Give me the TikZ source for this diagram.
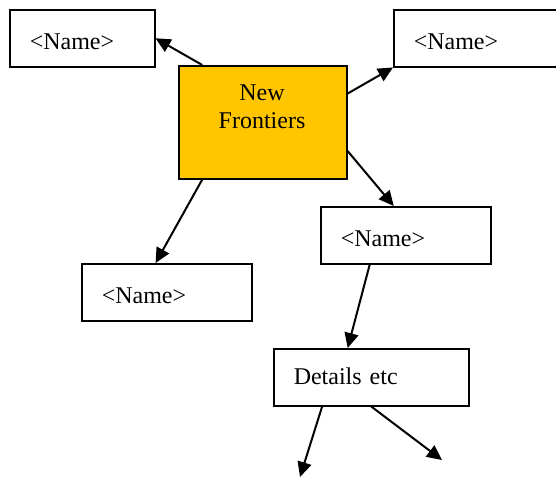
\documentclass[tikz,border=0pt]{standalone}
\usepackage{fontspec}
\setmainfont{Liberation Serif}
\usetikzlibrary{calc,positioning,arrows.meta}
\definecolor{gold}{RGB}{255,198,0}
\tikzset{
  every node/.style={font=\fontsize{12}{13.8}\selectfont},
  namebox/.style={draw, line width=0.75pt, anchor=north west, inner xsep=10pt, align=left, text width=#1, text height=11pt, text depth=0pt, minimum height=28.5pt},
  hub/.style={draw, line width=0.75pt, fill=gold, anchor=north west, minimum width=84pt, minimum height=56.5pt},
  link/.style={line width=1pt, -{Triangle[length=7.5pt,width=7pt]}}
}
\begin{document}
\begin{tikzpicture}[x=0.5pt, y=-0.5pt]
\useasboundingbox (0,0) rectangle (556,488);
% boxes
\node[namebox=52.5pt] (nameA) at (9,9) {<Name>};
\node[namebox=72pt] (nameB) at (393,9) {<Name>};
\node[hub] (nf) at (178,65) {};
\node[align=center] (nftext) at (262,107) {New\\Frontiers};
\node[namebox=65pt] (nameC) at (320,206) {<Name>};
\node[namebox=65pt] (nameD) at (81,263) {<Name>};
\node[namebox=77.5pt, text height=7pt] (details) at (273,348) {Details etc};
\coordinate (endA) at (300,477);
\coordinate (endB) at (442,460);
% arrows
\draw[link] ($(nf.north west)!0.143!(nf.north east)$) -- (nameA.east);
\draw[link] ($(nf.north east)!0.25!(nf.south east)$) -- (nameB.south west);
\draw[link] ($(nf.north east)!0.75!(nf.south east)$) -- ($(nameC.north west)!0.43!(nameC.north east)$);
\draw[link] ($(nf.south west)!0.143!(nf.south east)$) -- ($(nameD.north west)!0.435!(nameD.north east)$);
\draw[link] ($(nameC.south west)!0.29!(nameC.south east)$) -- ($(details.north west)!0.38!(details.north east)$);
\draw[link] ($(details.south west)!0.25!(details.south east)$) -- (endA);
\draw[link] (details.south) -- (endB);
\end{tikzpicture}
\end{document}
